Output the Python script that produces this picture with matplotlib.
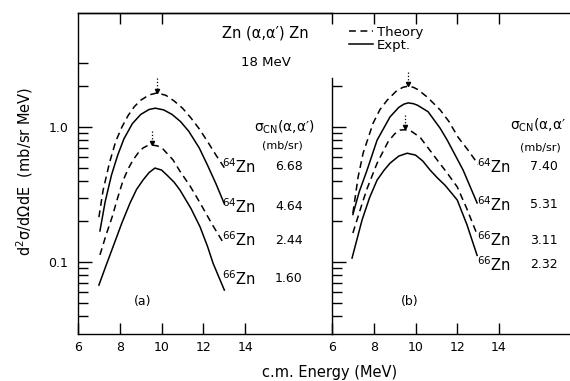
import numpy as np
import matplotlib.pyplot as plt
from matplotlib.ticker import FixedLocator, FixedFormatter, NullFormatter

plt.rcParams['font.family'] = 'DejaVu Sans'
plt.rcParams['mathtext.default'] = 'regular'

# --- panel (a) curves (E in MeV, cross section in mb/sr MeV) ---
ea_64t = [7.0, 7.2, 7.5, 7.8, 8.1, 8.4, 8.7, 9.0, 9.4, 9.78, 10.2, 10.6, 11.0, 11.4, 11.8, 12.2, 12.6, 13.0]
ya_64t = [0.215, 0.34, 0.54, 0.78, 1.0, 1.22, 1.42, 1.58, 1.73, 1.79, 1.72, 1.56, 1.38, 1.17, 0.97, 0.78, 0.62, 0.50]
ea_64e = [7.05, 7.3, 7.6, 7.9, 8.2, 8.6, 9.0, 9.4, 9.7, 10.1, 10.5, 10.9, 11.3, 11.8, 12.2, 12.6, 13.0]
ya_64e = [0.17, 0.28, 0.44, 0.62, 0.82, 1.06, 1.24, 1.35, 1.38, 1.34, 1.24, 1.10, 0.93, 0.70, 0.52, 0.38, 0.27]
ea_66t = [7.05, 7.35, 7.63, 7.9, 8.15, 8.4, 8.63, 8.9, 9.11, 9.3, 9.54, 9.8, 10.02, 10.55, 10.88, 11.36, 11.84, 12.41, 13.0]
ya_66t = [0.113, 0.16, 0.215, 0.30, 0.40, 0.49, 0.57, 0.65, 0.70, 0.725, 0.736, 0.725, 0.70, 0.57, 0.47, 0.366, 0.274, 0.191, 0.135]
ea_66e = [7.0, 7.35, 7.67, 8.1, 8.49, 8.8, 9.11, 9.4, 9.68, 10.0, 10.26, 10.6, 10.88, 11.4, 11.84, 12.2, 12.46, 13.0]
ya_66e = [0.0675, 0.095, 0.129, 0.195, 0.274, 0.345, 0.405, 0.46, 0.497, 0.48, 0.44, 0.39, 0.341, 0.25, 0.182, 0.13, 0.098, 0.062]

# --- panel (b) curves ---
eb_64t = [7.0, 7.25, 7.49, 7.97, 8.3, 8.64, 9.1, 9.4, 9.65, 9.9, 10.1, 10.56, 11.18, 11.6, 12.04, 12.5, 13.0]
yb_64t = [0.23, 0.426, 0.64, 1.07, 1.35, 1.58, 1.86, 1.97, 2.01, 1.97, 1.90, 1.67, 1.34, 1.10, 0.84, 0.68, 0.53]
eb_64e = [7.0, 7.3, 7.68, 8.16, 8.78, 9.2, 9.45, 9.65, 9.9, 10.1, 10.6, 11.18, 11.52, 12.28, 12.95]
yb_64e = [0.225, 0.33, 0.48, 0.80, 1.19, 1.40, 1.48, 1.51, 1.49, 1.45, 1.30, 0.98, 0.80, 0.48, 0.274]
eb_66t = [7.0, 7.44, 7.68, 8.16, 8.69, 9.0, 9.26, 9.5, 9.8, 10.22, 11.04, 11.5, 12.0, 12.45, 12.95]
yb_66t = [0.164, 0.27, 0.35, 0.54, 0.78, 0.89, 0.95, 0.955, 0.93, 0.84, 0.57, 0.46, 0.36, 0.25, 0.16]
eb_66e = [6.96, 7.44, 7.8, 8.16, 8.5, 8.78, 9.2, 9.6, 10.0, 10.35, 10.7, 11.05, 11.42, 12.0, 12.47, 12.95]
yb_66e = [0.107, 0.205, 0.30, 0.405, 0.48, 0.54, 0.61, 0.64, 0.62, 0.56, 0.48, 0.42, 0.37, 0.288, 0.188, 0.112]

isotopes = ['$^{64}$Zn', '$^{64}$Zn', '$^{66}$Zn', '$^{66}$Zn']
sigma_a = ['6.68', '4.64', '2.44', '1.60']
sigma_b = ['7.40', '5.31', '3.11', '2.32']
xticks = [6, 8, 10, 12, 14]

W, H = 570, 381
fig = plt.figure(figsize=(W / 100, H / 100), dpi=100)


def fx(px):
    return px / W


def fy(py):
    return 1 - py / H


bottom, top = fy(334), fy(13)
ax_a = fig.add_axes([fx(78), bottom, fx(332) - fx(78), top - bottom])
ax_b = fig.add_axes([fx(332), bottom, 1 - fx(332), top - bottom])

dash = (0, (4.5, 3))
for ax, curves in [(ax_a, [(ea_64t, ya_64t, 't'), (ea_64e, ya_64e, 'e'),
                           (ea_66t, ya_66t, 't'), (ea_66e, ya_66e, 'e')]),
                   (ax_b, [(eb_64t, yb_64t, 't'), (eb_64e, yb_64e, 'e'),
                           (eb_66t, yb_66t, 't'), (eb_66e, yb_66e, 'e')])]:
    for e, y, kind in curves:
        if kind == 't':
            ln_t, = ax.plot(e, y, color='k', lw=1.1, linestyle=dash)
            # dotted arrow pointing down at the theory maximum
            i = int(np.argmax(y))
            ax.plot([e[i], e[i]], [y[i] * 1.28, y[i] * 1.06], color='k', lw=0.9, linestyle=':')
            ax.plot(e[i], y[i] * 1.04, marker='v', ms=3, color='k')
        else:
            ln_e, = ax.plot(e, y, color='k', lw=1.1)

    ax.set_yscale('log')
    ax.set_ylim(0.0293, 7.0)
    ax.spines['right'].set_visible(False)
    for s in ax.spines.values():
        s.set_linewidth(1.0)
    ax.set_xticks(xticks)
    ax.tick_params(axis='x', direction='in', length=8, width=1, labelsize=9, pad=5)
    ax.tick_params(axis='y', which='both', direction='in', width=1)
    ax.tick_params(axis='y', which='major', length=10)
    ax.tick_params(axis='y', which='minor', length=7)
    ax.yaxis.set_major_locator(FixedLocator([0.1, 1.0]))

ax_a.set_xlim(6, 18.15)
ax_b.set_xlim(6, 17.4)

minor_a = [0.04, 0.05, 0.06, 0.07, 0.08, 0.09, 0.2, 0.3, 0.4, 0.5, 0.6, 0.7, 0.8, 0.9, 2, 3]
ax_a.yaxis.set_minor_locator(FixedLocator(minor_a))
ax_a.yaxis.set_minor_formatter(NullFormatter())
ax_a.yaxis.set_major_formatter(FixedFormatter(['0.1', '1.0']))
ax_a.tick_params(axis='y', labelsize=9, pad=7)
top_a = ax_a.secondary_xaxis('top')
top_a.set_xticks([8, 10])
top_a.tick_params(direction='in', length=8, width=1, labeltop=False)
top_a.spines['top'].set_linewidth(1.0)

ax_b.yaxis.set_minor_locator(FixedLocator([v for v in minor_a if v <= 2]))
ax_b.yaxis.set_minor_formatter(NullFormatter())
ax_b.yaxis.set_major_formatter(NullFormatter())
ax_b.spines['left'].set_bounds(0.0293, 2.3)
ax_b.tick_params(axis='x', top=True)

# legend
fig.legend(handles=[ln_t, ln_e], labels=['Theory', 'Expt.'], loc='upper left',
           bbox_to_anchor=(fx(349), fy(26)), frameon=False, fontsize=9.5,
           handlelength=1.8, handletextpad=0.3, labelspacing=0.0,
           borderpad=0, borderaxespad=0)

# annotations
fig.text(fx(265), fy(33), 'Zn (α,α′) Zn', fontsize=10.5, ha='center', va='center')
fig.text(fx(266), fy(62), '18 MeV', fontsize=9.5, ha='center', va='center')
fig.text(fx(284), fy(127), 'σ$_{CN}$(α,α′)', fontsize=10, ha='center', va='center')
fig.text(fx(282), fy(145), '(mb/sr)', fontsize=8, ha='center', va='center')
fig.text(fx(510), fy(125), 'σ$_{CN}$(α,α′', fontsize=10, ha='left', va='center')
fig.text(fx(540), fy(147), '(mb/sr)', fontsize=8, ha='center', va='center')

for lab, val, py in zip(isotopes, sigma_a, [167, 207, 240, 279]):
    fig.text(fx(222), fy(py), lab, fontsize=10.5, ha='left', va='center')
    fig.text(fx(275), fy(py), val, fontsize=9, ha='left', va='center')
for lab, val, py in zip(isotopes, sigma_b, [167, 205, 240, 265]):
    fig.text(fx(477), fy(py), lab, fontsize=10.5, ha='left', va='center')
    fig.text(fx(530), fy(py), val, fontsize=9, ha='left', va='center')

fig.text(fx(143), fy(302), '(a)', fontsize=9, ha='center', va='center')
fig.text(fx(410), fy(302), '(b)', fontsize=9, ha='center', va='center')
fig.text(fx(330), fy(372), 'c.m. Energy (MeV)', fontsize=10.5, ha='center', va='center')
fig.text(fx(25), fy(171), 'd$^2$σ/dΩdE  (mb/sr MeV)', fontsize=10.5,
         ha='center', va='center', rotation=90)

fig.savefig('out.png', dpi=100)
